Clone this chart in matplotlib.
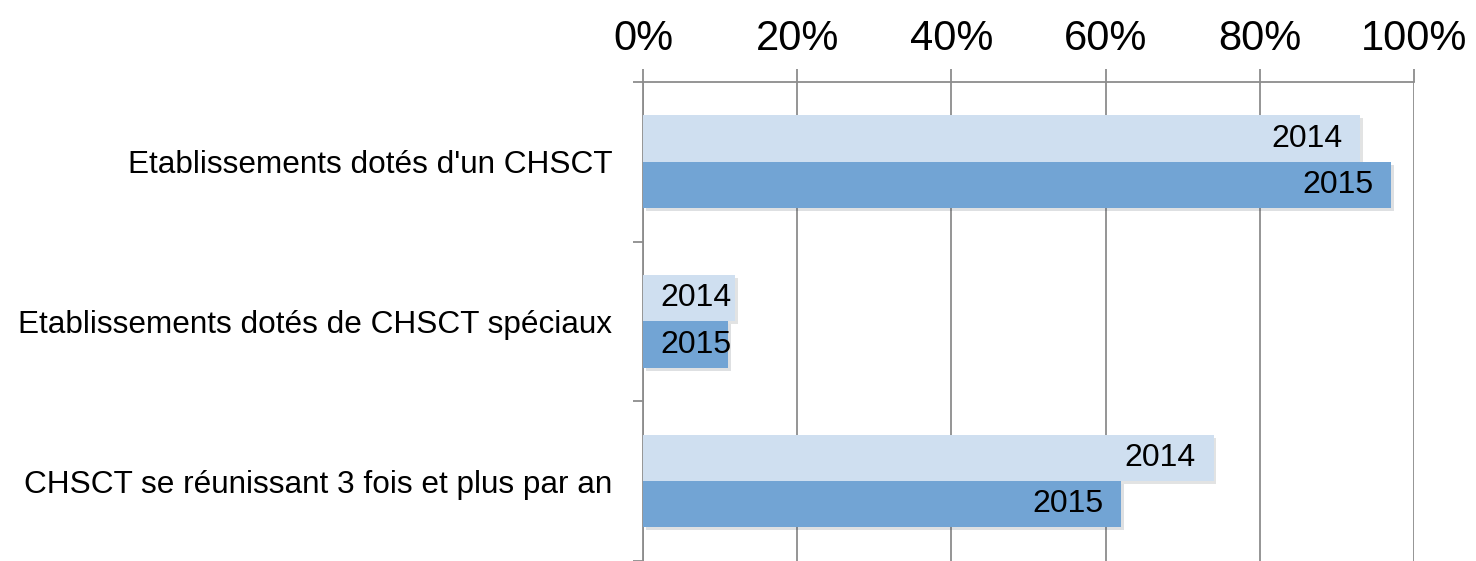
import matplotlib.pyplot as plt
import matplotlib.patheffects as pe
import numpy as np

plt.rcParams['font.family'] = ['Liberation Sans', 'DejaVu Sans']

categories = ["Etablissements dotés d'un CHSCT",
              "Etablissements dotés de CHSCT spéciaux",
              "CHSCT se réunissant 3 fois et plus par an"]
years = ["2014", "2015"]
vals_2014 = [93, 12, 74]
vals_2015 = [97, 11, 62]

col_2014 = '#cfdff0'
col_2015 = '#72a4d4'
grid_col = '#8c8c8c'


def put_labels(ax, ypos, vals, text):
    for y, v in zip(ypos, vals):
        if v - 2.3 - 9 > 1.5:
            ax.text(v - 2.3, y, text, ha='right', va='center', fontsize=23)
        else:
            ax.text(2.2, y, text, ha='left', va='center', fontsize=23)


def main():
    fig = plt.figure(figsize=(14.76, 5.61), dpi=100)
    ax = fig.add_axes([0.4356, 0.0, 0.5224, 0.854])

    y = np.arange(len(categories))
    h = 0.29
    shadow = [pe.SimplePatchShadow(offset=(2, -2), alpha=0.15), pe.Normal()]
    b1 = ax.barh(y - h / 2, vals_2014, height=h, color=col_2014, zorder=3)
    b2 = ax.barh(y + h / 2, vals_2015, height=h, color=col_2015, zorder=3)
    for b in list(b1) + list(b2):
        b.set_path_effects(shadow)

    put_labels(ax, y - h / 2, vals_2014, years[0])
    put_labels(ax, y + h / 2, vals_2015, years[1])

    ax.set_xlim(0, 100)
    ax.set_ylim(2.5, -0.5)
    ax.xaxis.tick_top()
    ax.set_xticks(np.arange(0, 101, 20))
    ax.set_xticklabels([f'{t}%' for t in range(0, 101, 20)], fontsize=30)
    ax.tick_params(axis='x', length=9.4, width=1.3, color=grid_col, pad=7)
    ax.grid(axis='x', color=grid_col, linewidth=1.3, zorder=0)

    ax.set_yticks(y)
    ax.set_yticklabels(categories, fontsize=22.7)
    ax.tick_params(axis='y', length=0, pad=22)
    ax.set_yticks([-0.5, 0.5, 1.5, 2.5], minor=True)
    ax.tick_params(axis='y', which='minor', length=7.5, width=1.3, color=grid_col)

    for s in ['right', 'bottom']:
        ax.spines[s].set_visible(False)
    ax.spines['top'].set_color(grid_col)
    ax.spines['top'].set_linewidth(1.3)
    ax.spines['left'].set_color(grid_col)
    ax.spines['left'].set_linewidth(1.3)

    fig.savefig('out.png', dpi=100)


if __name__ == "__main__":
    main()
